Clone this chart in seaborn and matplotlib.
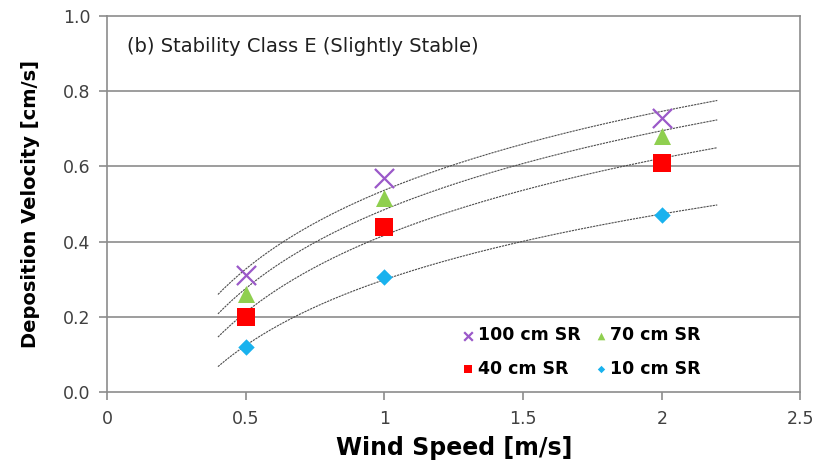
import numpy as np
import pandas as pd
import matplotlib.pyplot as plt
import seaborn as sns

# --- data ---
wind_speed = [0.5, 1.0, 2.0]
series = ['100 cm SR', '70 cm SR', '40 cm SR', '10 cm SR']
vd_100 = [0.31, 0.57, 0.73]
vd_70 = [0.26, 0.515, 0.68]
vd_40 = [0.20, 0.44, 0.61]
vd_10 = [0.12, 0.305, 0.47]
fit_range = (0.4, 2.2)

colors = {'100 cm SR': '#9b59c9', '70 cm SR': '#8fcf4f',
          '40 cm SR': '#ff0000', '10 cm SR': '#19b2ee'}
markers = {'100 cm SR': 'x', '70 cm SR': '^', '40 cm SR': 's', '10 cm SR': 'D'}
sizes = {'100 cm SR': 190, '70 cm SR': 150, '40 cm SR': 150, '10 cm SR': 70}

df = pd.DataFrame({
    'Wind Speed': wind_speed * 4,
    'Vd': vd_100 + vd_70 + vd_40 + vd_10,
    'Series': [s for s in series for _ in wind_speed],
})

sns.set_style('white')
plt.rcParams['font.family'] = ['DejaVu Sans']

fig = plt.figure(figsize=(8.13, 4.62), dpi=100)
ax = fig.add_axes([0.1316, 0.152, 0.853, 0.813])

# logarithmic trend lines fitted to each series
xs = np.linspace(fit_range[0], fit_range[1], 200)
for name, grp in df.groupby('Series', sort=False):
    b, a = np.polyfit(np.log(grp['Wind Speed']), grp['Vd'], 1)
    ax.plot(xs, a + b * np.log(xs), color='0.3', lw=0.8,
            linestyle=(0, (2, 0.8)), zorder=2)

for name in series:
    sub = df[df['Series'] == name]
    lw = 1.6 if markers[name] == 'x' else 0
    sns.scatterplot(data=sub, x='Wind Speed', y='Vd', ax=ax,
                    marker=markers[name], color=colors[name], s=sizes[name],
                    linewidth=lw, edgecolor=colors[name] if lw == 0 else None,
                    label=name, zorder=3)

ax.set_xlim(0, 2.5)
ax.set_ylim(0, 1.0)
ax.set_xticks([0, 0.5, 1, 1.5, 2, 2.5])
ax.set_xticklabels(['0', '0.5', '1', '1.5', '2', '2.5'])
ax.set_yticks(np.arange(0, 1.01, 0.2))
ax.set_yticklabels([f'{v:.1f}' for v in np.arange(0, 1.01, 0.2)])
for y in [0.2, 0.4, 0.6, 0.8]:
    ax.axhline(y, color='#8c8c8c', lw=1.2, zorder=1)

for sp in ax.spines.values():
    sp.set_color('#8c8c8c')
    sp.set_linewidth(1.2)
    sp.set_visible(True)
ax.tick_params(axis='both', direction='out', length=6, width=1.2,
               color='#8c8c8c', labelcolor='#404040', labelsize=12.5,
               left=True, bottom=True)
ax.tick_params(axis='x', pad=7)
ax.tick_params(axis='y', pad=6)

ax.set_xlabel('Wind Speed [m/s]', fontsize=17, fontweight='bold',
              labelpad=6, color='black')
ax.set_ylabel('Deposition Velocity [cm/s]', fontsize=14, fontweight='bold',
              labelpad=16, color='black')

ax.text(0.029, 0.905, '(b) Stability Class E (Slightly Stable)',
        transform=ax.transAxes, fontsize=14, color='#202020')

handles, labels = ax.get_legend_handles_labels()
order = [0, 2, 1, 3]
leg = ax.legend([handles[i] for i in order], [labels[i] for i in order],
                ncol=2, loc='upper left', bbox_to_anchor=(0.51, 0.174),
                frameon=False, markerscale=0.45, handletextpad=0.1,
                columnspacing=0.7, labelspacing=0.9, handlelength=0.9,
                borderpad=0, borderaxespad=0,
                prop={'weight': 'bold', 'size': 12.5})
for t in leg.get_texts():
    t.set_color('black')

fig.savefig('out.png', dpi=100)
